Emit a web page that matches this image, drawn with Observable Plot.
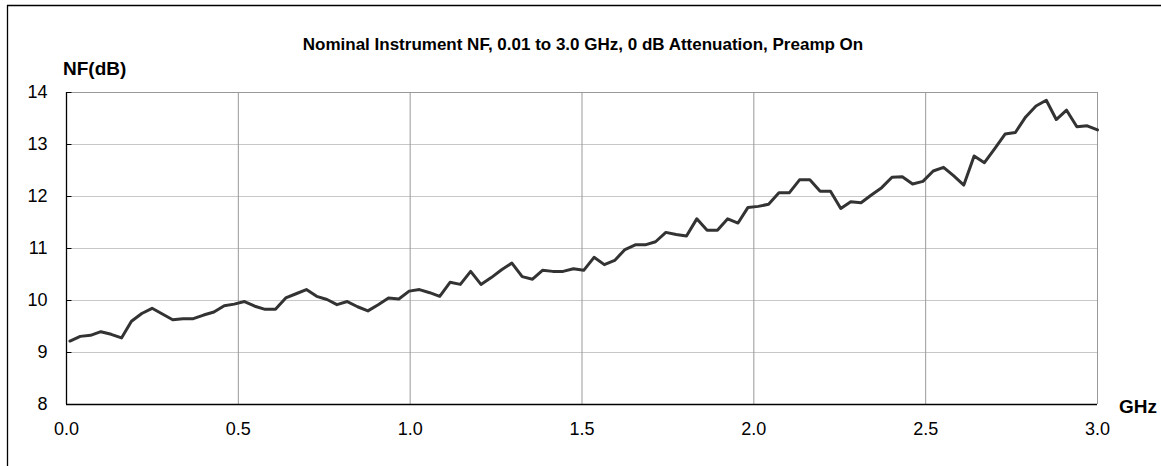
<!DOCTYPE html>
<html>
<head>
<meta charset="utf-8">
<script src="https://cdn.jsdelivr.net/npm/d3@7"></script>
<script src="https://cdn.jsdelivr.net/npm/@observablehq/plot@0.6"></script>
<style>
  html, body { margin: 0; padding: 0; background: #fff; }
  #chart svg { display: block; }
</style>
</head>
<body>
<div id="chart"></div>
<script>
const titleText = "Nominal Instrument NF, 0.01 to 3.0 GHz, 0 dB Attenuation, Preamp On";
const yLabelText = "NF(dB)";
const xLabelText = "GHz";

const freqGHz = [
  0.010, 0.040, 0.070, 0.100, 0.130, 0.160, 0.189, 0.219, 0.249, 0.279,
  0.309, 0.339, 0.369, 0.399, 0.429, 0.459, 0.488, 0.518, 0.548, 0.578,
  0.608, 0.638, 0.668, 0.698, 0.728, 0.758, 0.787, 0.817, 0.847, 0.877,
  0.907, 0.937, 0.967, 0.997, 1.027, 1.057, 1.086, 1.116, 1.146, 1.176,
  1.206, 1.236, 1.266, 1.296, 1.326, 1.356, 1.385, 1.415, 1.445, 1.475,
  1.505, 1.535, 1.565, 1.595, 1.625, 1.655, 1.684, 1.714, 1.744, 1.774,
  1.804, 1.834, 1.864, 1.894, 1.924, 1.954, 1.983, 2.013, 2.043, 2.073,
  2.103, 2.133, 2.163, 2.193, 2.223, 2.253, 2.282, 2.312, 2.342, 2.372,
  2.402, 2.432, 2.462, 2.492, 2.522, 2.552, 2.581, 2.611, 2.641, 2.671,
  2.701, 2.731, 2.761, 2.791, 2.821, 2.851, 2.880, 2.910, 2.940, 2.970,
  3.000
];

const nfDb = [
  9.22, 9.31, 9.33, 9.40, 9.35, 9.28, 9.60, 9.75, 9.85, 9.74,
  9.63, 9.65, 9.65, 9.72, 9.78, 9.90, 9.93, 9.98, 9.89, 9.83,
  9.83, 10.05, 10.13, 10.21, 10.08, 10.02, 9.92, 9.98, 9.88, 9.80,
  9.92, 10.05, 10.03, 10.18, 10.21, 10.15, 10.08, 10.35, 10.31, 10.56,
  10.31, 10.44, 10.59, 10.72, 10.46, 10.41, 10.58, 10.56, 10.56, 10.61,
  10.58, 10.83, 10.69, 10.77, 10.98, 11.07, 11.07, 11.13, 11.31, 11.27,
  11.24, 11.57, 11.35, 11.35, 11.57, 11.49, 11.79, 11.81, 11.85, 12.07,
  12.07, 12.32, 12.32, 12.10, 12.10, 11.77, 11.90, 11.88, 12.03, 12.17,
  12.37, 12.38, 12.24, 12.29, 12.49, 12.56, 12.40, 12.22, 12.78, 12.65,
  12.92, 13.20, 13.23, 13.53, 13.74, 13.85, 13.48, 13.66, 13.34, 13.36,
  13.28
];

const xTicks = [0.0, 0.5, 1.0, 1.5, 2.0, 2.5, 3.0];
const yTicks = [8, 9, 10, 11, 12, 13, 14];
const xGrid = [0.5, 1.0, 1.5, 2.0, 2.5, 3.0];
const yGrid = [9, 10, 11, 12, 13];
const yTop = [14];

const data = freqGHz.map((f, i) => ({f, nf: nfDb[i]}));

const W = 1161, H = 466;
const FONT = "'Liberation Sans', Arial, sans-serif";
const chart = Plot.plot({
  width: W,
  height: H,
  marginLeft: 66,
  marginRight: 64,
  marginTop: 92,
  marginBottom: 62,
  style: {fontFamily: FONT, fontSize: "18px", background: "#fff", color: "#000"},
  x: {domain: [0, 3]},
  y: {domain: [8, 14]},
  marks: [
    Plot.ruleY(yGrid, {stroke: "#c8c8c8", strokeWidth: 1}),
    Plot.ruleY(yTop, {stroke: "#999", strokeWidth: 1}),
    Plot.ruleX(xGrid, {stroke: "#999", strokeWidth: 1}),
    Plot.lineY(data, {x: "f", y: "nf", stroke: "#333", strokeWidth: 3}),
    Plot.ruleY([8], {stroke: "#000", strokeWidth: 1.3}),
    Plot.ruleX([0], {stroke: "#000", strokeWidth: 1.3}),
    Plot.ruleY(yTicks, {x1: 0, x2: 0.016, stroke: "#000", strokeWidth: 1}),
    Plot.axisX(xTicks, {tickSize: 0, tickPadding: 18, tickFormat: d => d.toFixed(1), label: null, fontSize: 18}),
    Plot.axisY(yTicks, {tickSize: 0, tickPadding: 19, tickFormat: d => String(d), label: null, fontSize: 18})
  ]
});

document.getElementById("chart").appendChild(chart);

const svg = d3.select(chart);
// outer frame (left and top edges visible)
svg.append("line").attr("x1", 7.5).attr("x2", 7.5).attr("y1", 5).attr("y2", H).attr("stroke", "#000").attr("stroke-width", 1.3);
svg.append("line").attr("x1", 7).attr("x2", W).attr("y1", 5.5).attr("y2", 5.5).attr("stroke", "#000").attr("stroke-width", 1.3);

svg.append("text")
  .attr("x", 583).attr("y", 50)
  .attr("text-anchor", "middle")
  .attr("font-family", FONT)
  .attr("font-weight", "bold").attr("font-size", 17)
  .attr("fill", "#000")
  .text(titleText);

svg.append("text")
  .attr("x", 63).attr("y", 75)
  .attr("text-anchor", "start")
  .attr("font-family", FONT)
  .attr("font-weight", "bold").attr("font-size", 19)
  .attr("fill", "#000")
  .text(yLabelText);

svg.append("text")
  .attr("x", 1119).attr("y", 413)
  .attr("text-anchor", "start")
  .attr("font-family", FONT)
  .attr("font-weight", "bold").attr("font-size", 19)
  .attr("fill", "#000")
  .text(xLabelText);
</script>
</body>
</html>
